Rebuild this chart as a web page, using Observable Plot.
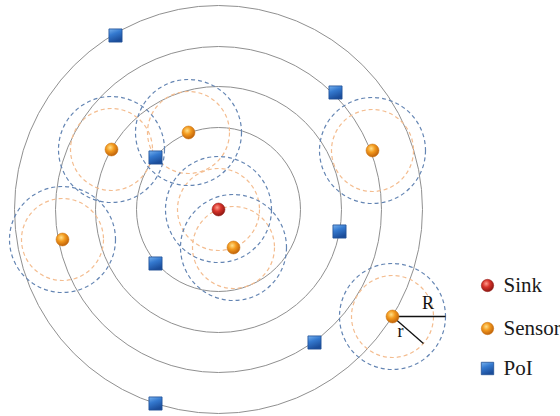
<!DOCTYPE html>
<html><head><meta charset="utf-8">
<script src="https://cdn.jsdelivr.net/npm/d3@7"></script>
<script src="https://cdn.jsdelivr.net/npm/@observablehq/plot@0.6"></script>
<style>
body{margin:0;background:#fff;}
#wrap{position:relative;width:560px;height:416px;overflow:hidden;}
#wrap svg{display:block;}
</style>
</head><body><div id="wrap"></div>
<script>
// Coordinates relative to the sink (units ≈ pixels of the original drawing)
const sinkX = [0];
const sinkY = [0];
const sensorX = [-107, -30, 15, -156, 154, 174];
const sensorY = [60, 77, -38, -30, 59, -107];
const poiX = [-103, -63, 117, -63, 121, 96, -63];
const poiY = [174, 52, 117, -54, -22, -133, -194];
const ringRadii = [82, 123, 163, 204];
const rangeSmall = 41;   // r
const rangeLarge = 53;   // R
const annotated = 5;     // sensor whose r / R is labelled
const annoLabels = ["R", "r"];
const annoAngles = [0, -41];
const legendLabels = ["Sink", "Sensor", "PoI"];

// layout (not data): legend placement in plot units
const legendLayout = {markerX: 269, textX: 285, rowY: [-76, -119, -159]};

const sink = sinkX.map((x, i) => ({x, y: sinkY[i]}));
const sensors = sensorX.map((x, i) => ({x, y: sensorY[i]}));
const pois = poiX.map((x, i) => ({x, y: poiY[i]}));
const nodes = sink.concat(sensors);
const rings = ringRadii.map(r => ({x: sink[0].x, y: sink[0].y, r}));
const small = nodes.map(d => ({...d, r: rangeSmall}));
const large = nodes.map(d => ({...d, r: rangeLarge}));
const a = sensors[annotated];
const anno = annoLabels.map((label, i) => {
  const len = i === 0 ? rangeLarge : rangeSmall;
  const t = annoAngles[i] * Math.PI / 180;
  return {label, x1: a.x, y1: a.y, x2: a.x + len * Math.cos(t), y2: a.y + len * Math.sin(t)};
});
const legendFills = ["url(#gSink)", "url(#gSensor)", "url(#gPoi)"];
const legendStrokes = ["#8e1a14", "#c8700c", "#1f4f94"];
const legend = legendLabels.map((label, i) => ({
  label, fill: legendFills[i], stroke: legendStrokes[i],
  symbol: i === 2 ? "square" : "circle",
  size: i === 2 ? 7 : 6.2,
  mx: legendLayout.markerX, tx: legendLayout.textX, y: legendLayout.rowY[i]
}));

const chart = Plot.plot({
  width: 560, height: 416,
  marginTop: 0, marginRight: 0, marginBottom: 0, marginLeft: 0,
  x: {domain: [-218, 342], axis: null},
  y: {domain: [-207, 209], axis: null},
  r: {type: "identity"},
  symbol: {type: "identity"},
  style: {background: "#fff"},
  marks: [
    Plot.dot(rings, {x: "x", y: "y", r: "r", fill: "none", stroke: "#909090", strokeWidth: 1}),
    Plot.dot(small, {x: "x", y: "y", r: "r", fill: "none", stroke: "#f4bd90", strokeWidth: 1.2, strokeDasharray: "4,3"}),
    Plot.dot(large, {x: "x", y: "y", r: "r", fill: "none", stroke: "#6485b3", strokeWidth: 1.2, strokeDasharray: "4,3"}),
    Plot.link(anno, {x1: "x1", y1: "y1", x2: "x2", y2: "y2", stroke: "#111", strokeWidth: 1.3}),
    Plot.text(anno.slice(0, 1), {x: d => (d.x1 + d.x2) / 2 + 9, y: "y1", text: "label", dy: -13, fontSize: 18, fontFamily: "Liberation Serif", fill: "#111"}),
    Plot.text(anno.slice(1), {x: d => d.x1 + 8, y: d => d.y1 - 15, text: "label", fontSize: 18, fontFamily: "Liberation Serif", fill: "#111"}),
    Plot.dot(pois, {x: "x", y: "y", symbol: "square", r: 7.4, fill: "url(#gPoi)", stroke: "#1f4f94", strokeWidth: 0.8}),
    Plot.dot(sensors, {x: "x", y: "y", r: 6.5, fill: "url(#gSensor)", stroke: "#c8700c", strokeWidth: 0.5}),
    Plot.dot(sink, {x: "x", y: "y", r: 6.5, fill: "url(#gSink)", stroke: "#8e1a14", strokeWidth: 0.5}),
    // legend
    Plot.dot(legend.slice(0, 2), {x: "mx", y: "y", r: "size", fill: d => d.fill, stroke: d => d.stroke, strokeWidth: 0.5}),
    Plot.dot(legend.slice(2), {x: "mx", y: "y", r: "size", symbol: "square", fill: "url(#gPoi)", stroke: "#1f4f94", strokeWidth: 0.8}),
    Plot.text(legend, {x: "tx", y: "y", text: "label", textAnchor: "start", lineAnchor: "middle", fontSize: 21, fontFamily: "Liberation Serif", fill: "#1a1a1a"})
  ]
});

const svg = d3.select(chart);
const defs = svg.insert("defs", ":first-child");
function radial(id, stops) {
  const g = defs.append("radialGradient").attr("id", id).attr("cx", "40%").attr("cy", "35%").attr("r", "65%");
  stops.forEach(([o, c]) => g.append("stop").attr("offset", o).attr("stop-color", c));
}
radial("gSink", [["0%", "#ff9c8c"], ["45%", "#d8332a"], ["100%", "#8f1712"]]);
radial("gSensor", [["0%", "#ffe08a"], ["45%", "#f39a1e"], ["100%", "#c0620a"]]);
const lg = defs.append("linearGradient").attr("id", "gPoi").attr("x1", "0").attr("y1", "0").attr("x2", "0.4").attr("y2", "1");
[["0%", "#78b2ee"], ["45%", "#3479cf"], ["100%", "#1b4d9a"]].forEach(([o, c]) => lg.append("stop").attr("offset", o).attr("stop-color", c));

document.getElementById("wrap").appendChild(chart);
</script>
</body></html>
